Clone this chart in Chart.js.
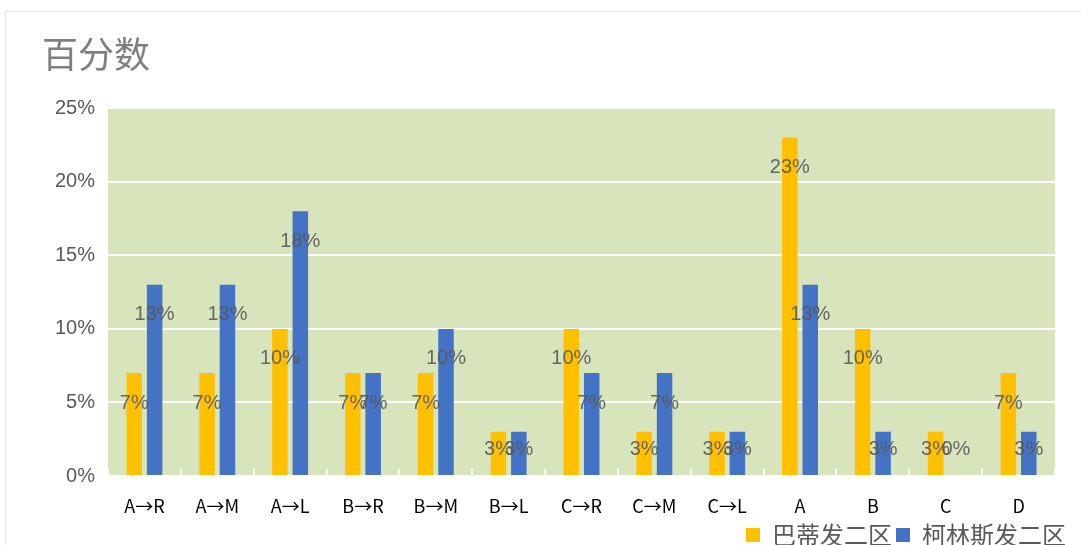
<!DOCTYPE html>
<html>
<head>
<meta charset="utf-8">
<script src="https://cdn.jsdelivr.net/npm/chart.js@4/dist/chart.umd.min.js"></script>
<style>
  html, body { margin: 0; padding: 0; background: #fff; }
  #wrap { position: relative; width: 1081px; height: 545px; overflow: hidden; }
  #frame { position: absolute; left: 5px; top: 11px; width: 1200px; height: 600px; border: 1px solid #e3e3e3; box-sizing: border-box; }
  canvas { position: absolute; left: 0; top: 0; }
</style>
</head>
<body>
<div id="wrap">
  <div id="frame"></div>
  <canvas id="chart" width="1081" height="545"></canvas>
</div>
<script>
// --- data ---
const categories = ['A→R', 'A→M', 'A→L', 'B→R', 'B→M', 'B→L', 'C→R', 'C→M', 'C→L', 'A', 'B', 'C', 'D'];
const seriesNames = ['巴蒂发二区', '柯林斯发二区'];
const batiValues   = [7, 7, 10, 7, 7, 3, 10, 3, 3, 23, 10, 3, 7];
const collinsValues = [13, 13, 18, 7, 10, 3, 7, 7, 3, 13, 3, 0, 3];
const yTicks = [0, 5, 10, 15, 20, 25];

const LATIN = '"Liberation Sans", Arial, sans-serif';
const CJK = '"Noto Sans CJK SC", sans-serif';

// green plot background + little white tick marks along the bottom
const plotBackground = {
  id: 'plotBackground',
  beforeDraw(chart) {
    const { ctx, chartArea: a } = chart;
    ctx.save();
    ctx.fillStyle = '#d8e4bc';
    ctx.fillRect(a.left, a.top, a.right - a.left, a.bottom - a.top);
    ctx.restore();
  },
  beforeDatasetsDraw(chart) {
    const { ctx, chartArea: a } = chart;
    const step = (a.right - a.left) / categories.length;
    ctx.save();
    ctx.strokeStyle = '#ffffff';
    ctx.lineWidth = 2;
    for (let i = 0; i <= categories.length; i++) {
      const x = Math.round(a.left + i * step);
      ctx.beginPath();
      ctx.moveTo(x, a.bottom);
      ctx.lineTo(x, a.bottom - 7);
      ctx.stroke();
    }
    ctx.restore();
  }
};

// value labels, Excel-style: a bit below the bar top, never lower than near the axis
const valueLabels = {
  id: 'valueLabels',
  afterDatasetsDraw(chart) {
    const { ctx, chartArea: a } = chart;
    ctx.save();
    ctx.font = '20px ' + LATIN;
    ctx.fillStyle = 'rgba(89,89,89,0.9)';
    ctx.textAlign = 'center';
    ctx.textBaseline = 'middle';
    chart.data.datasets.forEach((ds, di) => {
      const meta = chart.getDatasetMeta(di);
      meta.data.forEach((bar, i) => {
        const y = Math.min(bar.y + 30, a.bottom - 27);
        ctx.fillText(ds.data[i] + '%', bar.x, y);
      });
    });
    ctx.restore();
  }
};

new Chart(document.getElementById('chart'), {
  type: 'bar',
  data: {
    labels: categories,
    datasets: [
      { label: seriesNames[0], data: batiValues, backgroundColor: '#ffc000',
        categoryPercentage: 0.56, barPercentage: 0.76 },
      { label: seriesNames[1], data: collinsValues, backgroundColor: '#4472c4',
        categoryPercentage: 0.56, barPercentage: 0.76 }
    ]
  },
  options: {
    responsive: false,
    animation: false,
    devicePixelRatio: 1,
    layout: { padding: { left: 42, right: 11, top: 33, bottom: -12 } },
    plugins: {
      title: {
        display: true,
        text: '百分数',
        align: 'start',
        color: '#7f7f7f',
        font: { family: CJK, size: 36, weight: 'normal', lineHeight: 1.2 },
        padding: { top: 0, bottom: 32 }
      },
      legend: {
        position: 'bottom',
        align: 'end',
        labels: {
          color: '#595959',
          font: { family: CJK, size: 24 },
          boxWidth: 14,
          boxHeight: 14,
          padding: 4
        }
      },
      tooltip: { enabled: false }
    },
    scales: {
      x: {
        grid: { display: false, drawTicks: false },
        border: { display: false },
        ticks: { color: '#000000', font: { family: CJK, size: 18 }, padding: 19, maxRotation: 0, autoSkip: false },
        afterFit(scale) { scale.height = 43; }
      },
      y: {
        min: 0,
        max: 25,
        afterBuildTicks(scale) { scale.ticks = yTicks.map(v => ({ value: v })); },
        grid: { color: '#ffffff', lineWidth: 2, drawTicks: false },
        border: { display: false },
        ticks: { color: '#595959', font: { family: LATIN, size: 20 }, padding: 13, callback: v => v + '%' },
        afterFit(scale) { scale.width = 66; }
      },
      spacer: {
        position: 'right',
        display: true,
        grid: { display: false },
        border: { display: false },
        ticks: { display: false },
        afterFit(scale) { scale.width = 15; }
      }
    }
  },
  plugins: [plotBackground, valueLabels]
});
</script>
</body>
</html>
